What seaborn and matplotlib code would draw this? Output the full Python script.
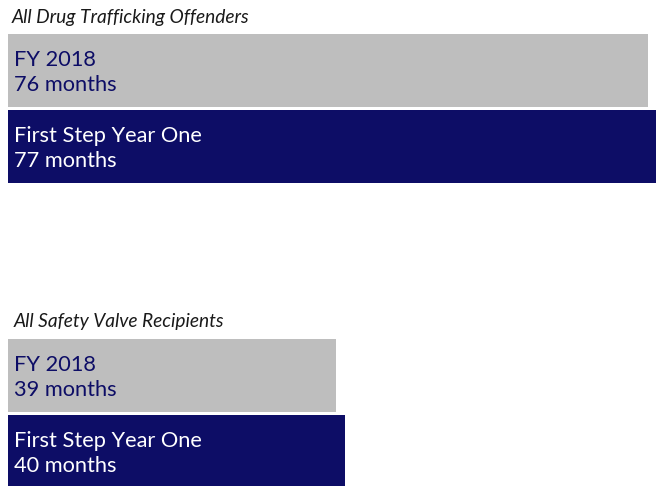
import matplotlib
matplotlib.use("Agg")
import matplotlib.pyplot as plt
import seaborn as sns
import pandas as pd

groups = ["All Drug Trafficking Offenders", "All Safety Valve Recipients"]
periods = ["FY 2018", "First Step Year One"]
drug_months = [76, 77]
safety_months = [39, 40]
unit = "months"

GRAY = "#BEBEBE"
NAVY = "#0D0D66"

sns.set_theme(style="white")
plt.rcParams["font.family"] = ["Lato", "DejaVu Sans"]

W, H = 656, 486
fig = plt.figure(figsize=(W / 100, H / 100), dpi=100)

def px_axes(left, top, right, bottom):
    return fig.add_axes([left / W, 1 - bottom / H, (right - left) / W, (bottom - top) / H])

layouts = [(32.5, 184.5, 17, 12), (337.5, 489.5, 321, 14)]
series = [drug_months, safety_months]

for (top, bottom, ty, tx), title, vals in zip(layouts, groups, series):
    ax = px_axes(8, top, 656, bottom)
    df = pd.DataFrame({"period": periods, "value": vals})
    sns.barplot(data=df, x="value", y="period", hue="period", palette=[GRAY, NAVY],
                orient="h", width=0.96, legend=False, ax=ax, saturation=1, linewidth=0)
    ax.set_xlim(0, 77)
    ax.set_ylim(1.5, -0.5)
    ax.axis("off")
    for i, (p, v) in enumerate(zip(periods, vals)):
        ax.text(0.72, i + 0.03, f"{p}\n{v} {unit}", va="center", ha="left",
                fontsize=15.7, color=NAVY if i == 0 else "white", linespacing=1.3)
    fig.text(tx / W, 1 - ty / H, title, fontsize=13.8, style="italic",
             color="#1a1a1a", va="center", ha="left")

fig.savefig("out.png", dpi=100)
